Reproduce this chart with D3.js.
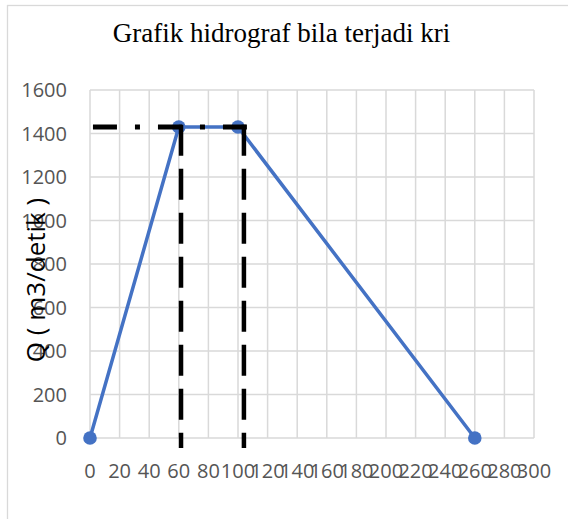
<!DOCTYPE html>
<html>
<head>
<meta charset="utf-8">
<script src="https://cdn.jsdelivr.net/npm/d3@7"></script>
<style>
  body { margin: 0; background: #fff; }
</style>
</head>
<body>
<div id="chart"></div>
<script>
// hydrograph points (time, Q)
var timeVals = [0, 60, 100, 260];
var qVals = [0, 1430, 1430, 0];

// black helper lines: peak level and the two verticals
var peakLineX = [2, 106];
var peakLineY = [1430, 1430];
var vert1X = [61.5, 61.5];
var vert2X = [104, 104];
var vertY = [1440, -46];

var xTicks = [0, 20, 40, 60, 80, 100, 120, 140, 160, 180, 200, 220, 240, 260, 280, 300];
var yTicks = [0, 200, 400, 600, 800, 1000, 1200, 1400, 1600];

var title = "Grafik hidrograf bila terjadi kri";
var yTitle = "Q ( m3/detik )";

var width = 568, height = 519;

var svg = d3.select("#chart")
    .append("svg")
    .attr("width", width)
    .attr("height", height);

svg.append("rect")
    .attr("width", width).attr("height", height)
    .attr("fill", "#fff");

// chart border (left and top visible)
svg.append("rect")
    .attr("x", 7.5).attr("y", 5.5)
    .attr("width", 600).attr("height", 600)
    .attr("fill", "none")
    .attr("stroke", "#d9d9d9")
    .attr("stroke-width", 1.3);

var x = d3.scaleLinear().domain([0, 300]).range([90, 534]);
var y = d3.scaleLinear().domain([0, 1600]).range([438, 90]);

// grid
svg.selectAll(".gx")
    .data(xTicks)
    .enter()
    .append("line")
    .attr("x1", function (d) { return x(d) })
    .attr("x2", function (d) { return x(d) })
    .attr("y1", y(0))
    .attr("y2", y(1600))
    .attr("stroke", "#d9d9d9")
    .attr("stroke-width", 1.5);

svg.selectAll(".gy")
    .data(yTicks)
    .enter()
    .append("line")
    .attr("x1", x(0))
    .attr("x2", x(300))
    .attr("y1", function (d) { return y(d) })
    .attr("y2", function (d) { return y(d) })
    .attr("stroke", "#d9d9d9")
    .attr("stroke-width", 1.5);

// tick labels (they overlap on x, as in the original)
svg.selectAll(".ly")
    .data(yTicks)
    .enter()
    .append("text")
    .attr("x", 67)
    .attr("y", function (d) { return y(d) })
    .attr("dy", "0.36em")
    .attr("text-anchor", "end")
    .attr("font-family", "Open Sans, sans-serif")
    .attr("font-size", "20px")
    .attr("fill", "#555")
    .text(function (d) { return d });

svg.selectAll(".lx")
    .data(xTicks)
    .enter()
    .append("text")
    .attr("x", function (d) { return x(d) })
    .attr("y", 477.5)
    .attr("text-anchor", "middle")
    .attr("font-family", "Open Sans, sans-serif")
    .attr("font-size", "20px")
    .attr("fill", "#555")
    .text(function (d) { return d });

// hydrograph line
var pts = timeVals.map(function (t, i) { return [t, qVals[i]] });
var line = d3.line()
    .x(function (d) { return x(d[0]) })
    .y(function (d) { return y(d[1]) });

svg.append("path")
    .datum(pts)
    .attr("d", line)
    .attr("fill", "none")
    .attr("stroke", "#4472C4")
    .attr("stroke-width", 3.5)
    .attr("stroke-linejoin", "round");

svg.selectAll(".pt")
    .data(pts)
    .enter()
    .append("circle")
    .attr("cx", function (d) { return x(d[0]) })
    .attr("cy", function (d) { return y(d[1]) })
    .attr("r", 6.8)
    .attr("fill", "#4472C4");

// black dashed helper lines
function pairs(xs, ys) { return xs.map(function (v, i) { return [v, ys[i]] }) }

svg.append("path")
    .datum(pairs(peakLineX, peakLineY))
    .attr("d", line)
    .attr("fill", "none")
    .attr("stroke", "#000")
    .attr("stroke-width", 5)
    .attr("stroke-dasharray", "24,18,5,18");

[vert1X, vert2X].forEach(function (vx) {
    svg.append("path")
        .datum(pairs(vx, vertY))
        .attr("d", line)
        .attr("fill", "none")
        .attr("stroke", "#000")
        .attr("stroke-width", 4.5)
        .attr("stroke-dasharray", "31,13");
});

// titles
svg.append("text")
    .attr("x", 281.5)
    .attr("y", 42)
    .attr("text-anchor", "middle")
    .attr("font-family", "Liberation Serif, Times New Roman, serif")
    .attr("font-size", "27px")
    .attr("fill", "#000")
    .text(title);

svg.append("text")
    .attr("transform", "translate(45,280) rotate(-90)")
    .attr("text-anchor", "middle")
    .attr("font-family", "Open Sans, sans-serif")
    .attr("font-size", "26px")
    .attr("fill", "#000")
    .text(yTitle);
</script>
</body>
</html>
